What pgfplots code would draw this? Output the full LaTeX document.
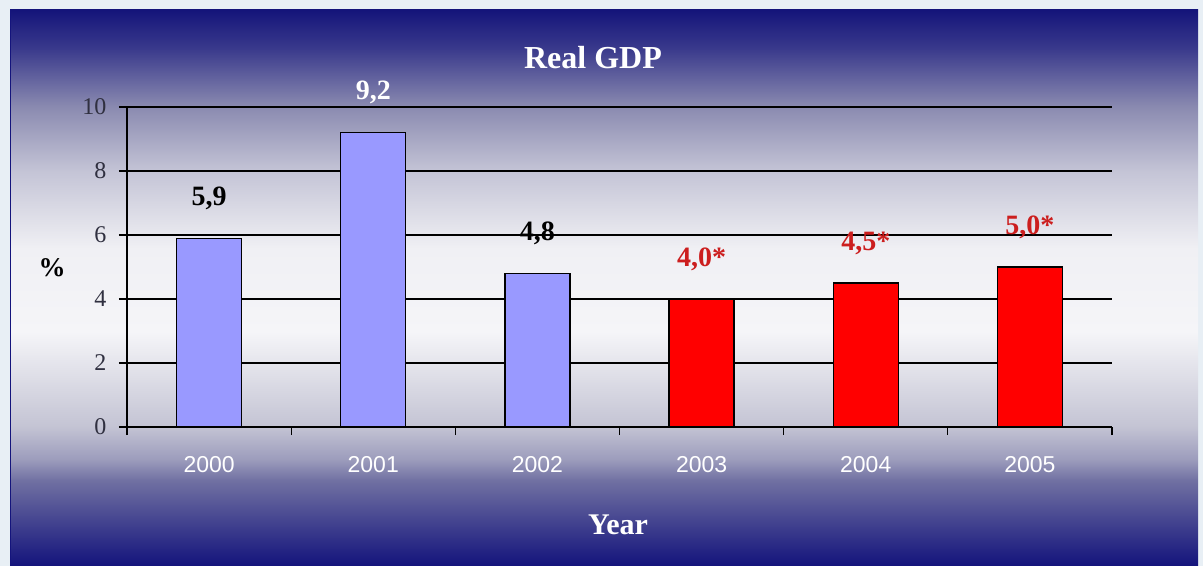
\documentclass[border=0pt]{standalone}
\usepackage{pgfplots}
\pgfplotsset{compat=1.18}
\usepackage{fontspec}
\setmainfont{Liberation Serif}
\newfontfamily\sansf{Liberation Sans}
\definecolor{outerbg}{HTML}{E8EFF5}
\definecolor{c0}{HTML}{14147C}
\definecolor{c1}{HTML}{7070A2}
\definecolor{c1b}{HTML}{9C9CBC}
\definecolor{c2}{HTML}{C4C4D4}
\definecolor{c3}{HTML}{F5F5F8}
\definecolor{c4}{HTML}{F0F0F4}
\definecolor{c5}{HTML}{C4C4D6}
\definecolor{c6}{HTML}{8A8AB0}
\definecolor{c7}{HTML}{3A3A8C}
\definecolor{c8}{HTML}{14147A}
\definecolor{barblue}{HTML}{9999FF}
\definecolor{barred}{HTML}{FF0000}
\definecolor{lblred}{HTML}{CC1E1E}
\definecolor{ylab}{HTML}{303040}
\pgfdeclareverticalshading{panelshade}{100bp}{color(0bp)=(c0); color(25bp)=(c0); color(32.6bp)=(c1); color(34.5bp)=(c1b); color(37.5bp)=(c2); color(46bp)=(c3); color(53.5bp)=(c4); color(60.5bp)=(c5); color(66.3bp)=(c6); color(71.5bp)=(c7); color(75bp)=(c8); color(100bp)=(c8)}
\begin{document}
\begin{tikzpicture}[x=1pt,y=1pt]
\useasboundingbox (0,0) rectangle (1203,566);
\fill[outerbg] (0,0) rectangle (1203,566);
\shade[shading=panelshade] (10,1) rectangle (1198,556);
\draw[c0, line width=1pt] (10.5,1) -- (10.5,556);
\begin{axis}[
  at={(127pt,139pt)}, anchor=south west,
  scale only axis, width=985pt, height=320pt,
  ybar, bar width=0.396, bar shift=0pt,
  xmin=-0.5, xmax=5.5, ymin=0, ymax=10,
  axis lines*=left,
  axis line style={black, line width=1.2pt},
  tick align=outside,
  major tick length=8pt, minor tick length=8pt,
  ytick={0,2,...,10},
  ymajorgrids, grid style={black, line width=1.2pt},
  y tick style={black, line width=1.2pt},
  xtick={0,...,5},
  xticklabels={2000,2001,2002,2003,2004,2005},
  major x tick style={draw=none},
  minor xtick={-0.5,0.5,...,5.5},
  minor x tick style={black, line width=1.2pt},
  /pgf/number format/assume math mode=true,
  yticklabel style={font=\fontsize{24}{26}\selectfont, text=ylab, xshift=-9pt},
  xticklabel style={font=\sansf\fontsize{23}{25}\selectfont, text=white, yshift=-18pt},
  point meta=explicit symbolic,
  nodes near coords,
  nodes near coords style={font=\bfseries\fontsize{28}{30}\selectfont, anchor=center, yshift=40pt},
]
\addplot[fill=barblue, draw=black, line width=1.2pt] coordinates {(0,5.9) [{5,9}] (1,9.2) [{\textcolor{white}{9,2}}] (2,4.8) [{4,8}]};
\addplot[fill=barred, draw=black, line width=1.2pt, nodes near coords style={text=lblred}] coordinates {(3,4.0) [{4,0*}] (4,4.5) [{4,5*}] (5,5.0) [{5,0*}]};
\end{axis}
\node[text=white, font=\bfseries\fontsize{32}{34}\selectfont] at (593,508) {Real GDP};
\node[text=black, font=\bfseries\fontsize{27}{29}\selectfont] at (52,298) {\%};
\node[text=white, font=\bfseries\fontsize{30}{32}\selectfont] at (618,41) {Year};
\end{tikzpicture}
\end{document}
